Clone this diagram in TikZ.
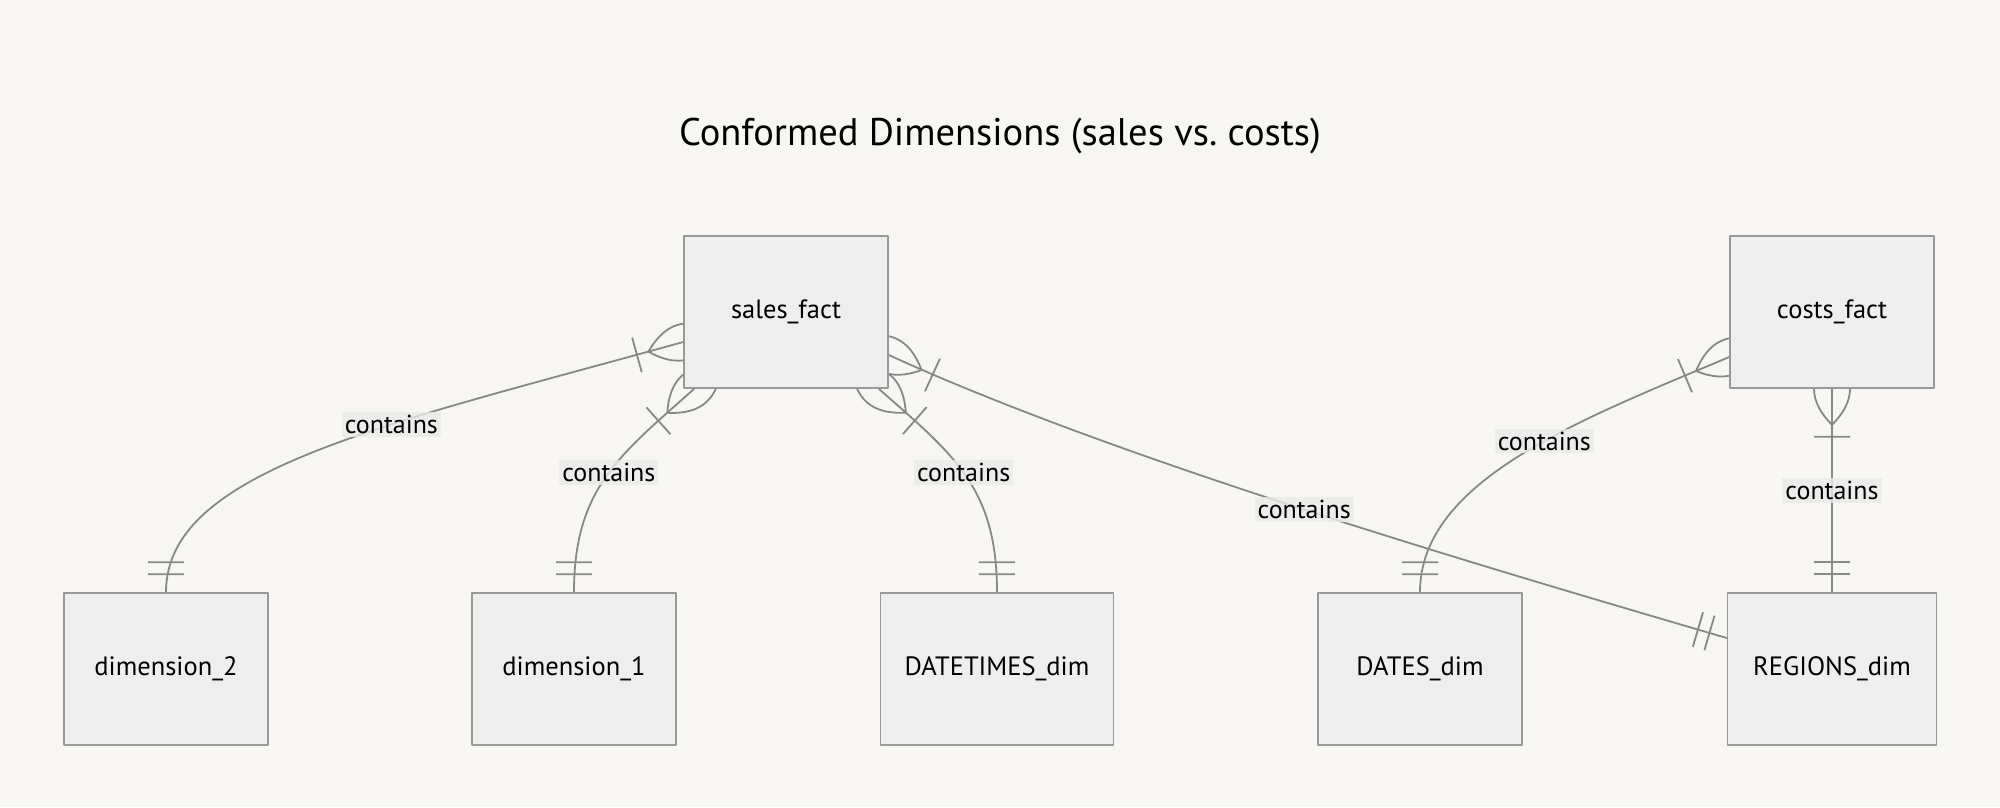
\documentclass[tikz,border=0pt]{standalone}
\usepackage{fontspec}
\setmainfont{PT Sans}
\usetikzlibrary{decorations.markings}
\pgfdeclarelayer{bg}
\pgfdeclarelayer{edges}
\pgfsetlayers{bg,edges,main}
\definecolor{bgcol}{RGB}{247,246,242}
\definecolor{boxfill}{RGB}{238,238,238}
\definecolor{boxline}{RGB}{153,153,153}
\definecolor{relline}{RGB}{136,136,136}
\definecolor{lblfill}{RGB}{234,234,232}
\tikzset{
  entity/.style={draw=boxline,fill=boxfill,line width=1.6pt,inner sep=0pt,minimum width=204pt,minimum height=152pt,font=\fontsize{26.5}{30}\selectfont},
  rel/.style={draw=relline,line width=1.8pt},
  lbl/.style={fill=lblfill,fill opacity=0.8,text opacity=1,inner sep=3pt,font=\fontsize{26}{30}\selectfont},
  crow/.style={rel,postaction={decorate},decoration={markings,
    mark=at position 0 with {\draw[rel] (-36,0) .. controls (-12,-24) and (12,-24) .. (36,0) .. controls (12,24) and (-12,24) .. (-36,0) (48,-18) -- (48,18);},
    mark=at position -0.5pt with {\draw[rel] (-17.5,-18) -- (-17.5,18) (-29.5,-18) -- (-29.5,18);}}}
}
\begin{document}
\begin{tikzpicture}[x=1pt,y=-1pt,line join=round]
	\begin{pgfonlayer}{bg}
		\fill[bgcol] (0,0) rectangle (2000,807);
	\end{pgfonlayer}
	\useasboundingbox (0,0) rectangle (2000,807);
	\node[font=\fontsize{38.5}{44}\selectfont] (title) at (1000,136) {Conformed Dimensions (sales vs.\ costs)};
	\node[entity] (sales) at (786,312) {sales\_fact};
	\node[entity] (costs) at (1832,312) {costs\_fact};
	\foreach \n/\x/\w/\t in {dimtwo/166/204/dimension\_2,dimone/574/204/dimension\_1,datetimes/997/233/DATETIMES\_dim,dates/1420/204/DATES\_dim,regions/1832/209/REGIONS\_dim}
		{\node[entity,minimum width=\w pt] (\n) at (\x,669) {\t};}
	\begin{pgfonlayer}{edges}
		\draw[crow] ([yshift=-30pt]sales.west) .. controls (384,425) and (166,470) .. (dimtwo.north) node[lbl,pos=0.37]{contains};
		\draw[crow] ([xshift=11pt]sales.south west) .. controls (620,455) and (574,488) .. (dimone.north) node[lbl,pos=0.48]{contains};
		\draw[crow] ([xshift=-10pt]sales.south east) .. controls (954,455) and (997,488) .. (datetimes.north) node[lbl,pos=0.48]{contains};
		\draw[crow] ([yshift=-43pt]sales.east) .. controls (1118,460) and (1488,568) .. ([yshift=31pt]regions.west) node[lbl,pos=0.5]{contains};
		\draw[crow] ([yshift=-45pt]costs.west) .. controls (1580,420) and (1420,480) .. (dates.north) node[lbl,pos=0.43]{contains};
		\draw[crow] (costs) -- (regions) node[lbl,midway]{contains};
	\end{pgfonlayer}
\end{tikzpicture}
\end{document}
